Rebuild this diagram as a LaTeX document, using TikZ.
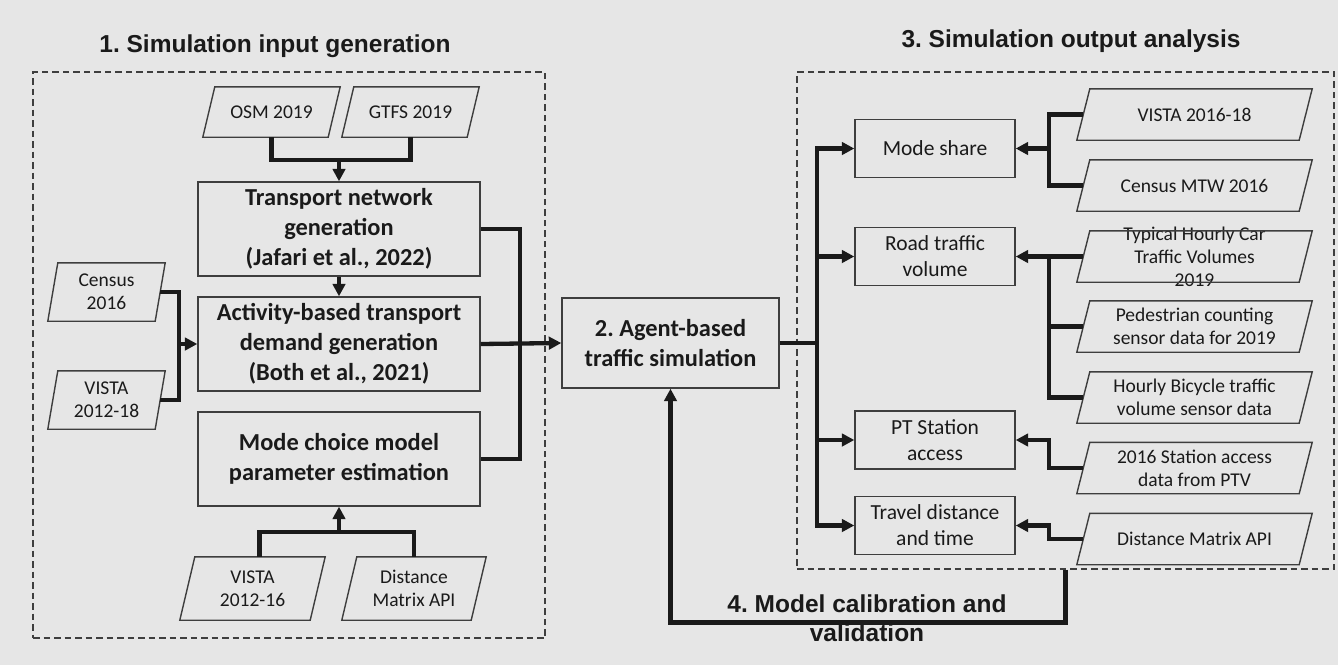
\documentclass[tikz,border=0pt]{standalone}
\usepackage{fontspec}
\setmainfont{Carlito}
\newfontfamily\headfont{Liberation Sans}
\usetikzlibrary{arrows.meta,calc}
\frenchspacing

\definecolor{bg}{RGB}{230,230,230}
\definecolor{ink}{RGB}{26,26,26}
\definecolor{edge}{RGB}{62,62,62}

\begin{document}
\begin{tikzpicture}[x=1pt,y=-1pt,
  box/.style={draw=edge, line width=1.4pt, rectangle, inner sep=0pt, align=center, text=ink},
  procbox/.style={box, minimum width=282, minimum height=94, font=\fontsize{24.4}{30}\selectfont\bfseries},
  outbox/.style={box, minimum width=160, minimum height=58, font=\fontsize{21.5}{26}\selectfont},
  datanode/.style={rectangle, inner sep=0pt, align=center, text=ink, font=\fontsize{19.5}{23}\selectfont},
  refdata/.style={datanode, minimum width=235, minimum height=51},
  paraline/.style={draw=edge, line width=1.4pt, line join=miter},
  conn/.style={draw=ink, line width=4.3pt},
  arr/.style={-{Triangle[length=12.5pt,width=12.5pt]}},
  frame/.style={draw=edge, line width=1.2pt, dash pattern=on 6.5pt off 4pt, inner sep=0pt},
  heading/.style={font=\headfont\fontsize{24.5}{29}\selectfont\bfseries, text=ink, align=center, inner sep=0pt},
]
\useasboundingbox (0,0) rectangle (1338,665);
\fill[bg] (0,0) rectangle (1338,665);

% dashed stage frames
\node[frame, minimum width=512, minimum height=566] (inframe) at (289,355) {};
\node[frame, minimum width=537, minimum height=497] (outframe) at (1065.5,320.5) {};

% headings
\node[heading, anchor=base] (t1) at (275,52) {1. Simulation input generation};
\node[heading, anchor=base] (t3) at (1071,47) {3. Simulation output analysis};
\node[heading] (t4) at (867,618.5) {4. Model calibration and\\validation};

% stage 1: input data
\node[datanode, minimum width=137, minimum height=50] (osm) at (271.5,112) {OSM 2019};
\node[datanode, minimum width=137, minimum height=50] (gtfs) at (410.5,112) {GTFS 2019};
\node[datanode, minimum width=117, minimum height=58] (census) at (106.5,292) {Census\\2016};
\node[datanode, minimum width=117, minimum height=58] (v1218) at (106.5,400) {VISTA\\2012-18};
\node[datanode, minimum width=145, minimum height=63] (v1216) at (252.5,588.5) {VISTA\\2012-16};
\node[datanode, minimum width=144, minimum height=63] (dm1) at (414,588.5) {Distance\\Matrix API};

% stage 1: processes
\node[procbox] (tng) at (339,229) {Transport network\\generation\\(Jafari et al., 2022)};
\node[procbox] (abd) at (339,344) {Activity-based transport\\demand generation\\(Both et al., 2021)};
\node[procbox] (mcm) at (339,459) {Mode choice model\\parameter estimation};

% stage 2: simulation
\node[procbox, minimum width=217, minimum height=90] (agent) at (670.5,343) {2. Agent-based\\traffic simulation};

% stage 3: outputs
\node[outbox] (ms) at (935,148.5) {Mode share};
\node[outbox] (rtv) at (935,256.5) {Road traffic\\volume};
\node[outbox] (pts) at (935,440) {PT Station\\access};
\node[outbox] (tdt) at (935,525.5) {Travel distance\\and time};

% stage 3: observed data sets
\node[refdata] (vst) at (1194.5,114.5) {VISTA 2016-18};
\node[refdata] (cmtw) at (1194.5,185.5) {Census MTW 2016};
\node[refdata] (typ) at (1194.5,256.5) {};
\node[datanode] (typtext) at (typ) {Typical Hourly Car\\Traffic Volumes\\2019};
\node[refdata] (ped) at (1194.5,326.5) {Pedestrian counting\\sensor data for 2019};
\node[refdata] (bike) at (1194.5,397.5) {Hourly Bicycle traffic\\volume sensor data};
\node[refdata] (stn) at (1194.5,468) {2016 Station access\\data from PTV};
\node[refdata] (dm2) at (1194.5,539) {Distance Matrix API};

% slanted outlines of the data nodes
\foreach \n/\s in {osm/12,gtfs/12,census/10,v1218/10,v1216/15,dm1/15,vst/13,cmtw/13,typ/13,ped/13,bike/13,stn/13,dm2/13}
  \draw[paraline] ([xshift=\s]\n.north west) -- (\n.north east) -- ([xshift=-\s]\n.south east) -- (\n.south west) -- cycle;

% stage 1 connectors
\coordinate (j1) at (339,160);
\draw[conn] (osm.south) |- (j1) -| (gtfs.south);
\draw[conn,arr] (j1) -- (tng.north);
\draw[conn,arr] (tng.south) -- (abd.north);
\coordinate (j2) at (179,344);
\draw[conn] ([xshift=-5]census.east) -| (j2) |- ([xshift=-5]v1218.east);
\draw[conn,arr] (j2) -- (abd.west);
\coordinate (j4) at (339,532);
\draw[conn] ([xshift=7]v1216.north) |- (j4) -| (dm1.north);
\draw[conn,arr] (j4) -- (mcm.south);
\coordinate (j3) at (520,344);
\draw[conn] (tng.east) -| (j3) |- (mcm.east);
\draw[conn,arr] (abd.east) -- (agent.west);

% stage 3 connectors
\coordinate (j5) at (817,343);
\draw[conn] (agent.east) -- (j5);
\foreach \t in {ms,rtv,pts,tdt}
  \draw[conn,arr] (j5) |- (\t.west);
\coordinate (k1) at (1049,148.5);
\draw[conn] ([xshift=6.5]vst.west) -| (k1) |- ([xshift=6.5]cmtw.west);
\draw[conn,arr] (k1) -- (ms.east);
\draw[conn,arr] ([xshift=6.5]typ.west) -- (rtv.east);
\coordinate (k2) at (1049,256.5);
\draw[conn] (k2) |- ([xshift=6.5]bike.west);
\draw[conn] (k2 |- ped.west) -- ([xshift=6.5]ped.west);
\draw[conn,arr] ([xshift=6.5]stn.west) -| (pts.east -| k1) -- (pts.east);
\draw[conn,arr] ([xshift=6.5]dm2.west) -| (tdt.east -| k1) -- (tdt.east);

% calibration feedback loop
\draw[conn,arr] (outframe.south) -- ++(0,53) -| (agent.south);
\end{tikzpicture}
\end{document}
